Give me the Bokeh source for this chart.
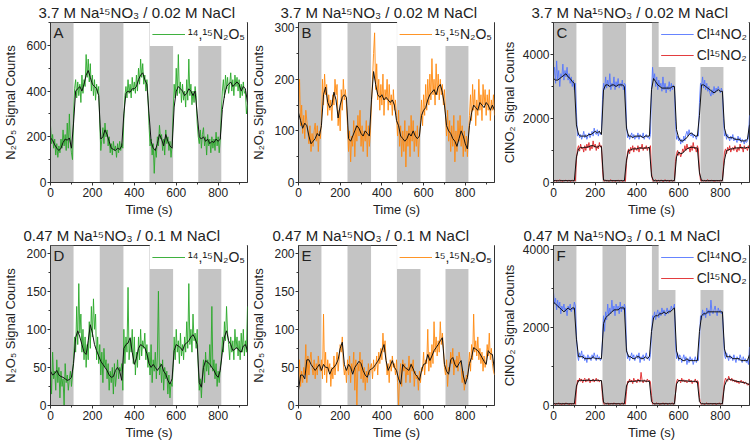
from bokeh.plotting import figure
from bokeh.models import Range1d, SingleIntervalTicker, Legend, LegendItem, Label
from bokeh.layouts import gridplot
from bokeh.embed import file_html
from bokeh.resources import INLINE

FONT = "Liberation Sans"
GREEN = "#2aa82a"
ORANGE = "#ff8a10"
BLUE = "#5577ff"
RED = "#e0282a"
BAND = "#c4c4c4"
TXT = "#222222"

# on/off periods (s) shown as grey bands
band_start = [0, 235, 472, 705]
band_end = [110, 348, 585, 815]

RAW_STEP = 5     # s between raw samples
SMOOTH_STEP = 10 # s between smoothed samples

# ---------------- Panel A : 14,15N2O5 (3.7 M) ----------------
a_raw = [250,170,210,150,190,120,170,110,160,130,190,150,230,160,210,140,260,150,300,170,130,100,
         300,410,
         450,370,440,380,430,350,470,390,450,420,560,460,540,440,520,400,470,380,450,360,430,390,420,
         260,140,190,240,170,260,200,230,160,200,130,170,120,180,140,160,110,170,130,180,140,170,150,
         280,380,420,370,450,390,430,370,460,400,440,390,470,400,500,430,540,460,520,430,470,400,450,380,
         250,160,190,120,170,40,150,110,200,160,250,190,210,140,190,120,230,170,200,140,180,110,160,
         300,430,370,500,380,560,390,440,350,430,360,400,330,450,360,540,380,430,340,400,350,420,380,
         260,200,170,230,150,210,240,160,200,120,210,160,190,130,200,150,190,140,220,160,200,130,190,
         300,400,450,370,470,410,460,390,430,480,400,450,380,470,420,460,400,450,370,430,380,440,390,400,300,340]
a_smooth = [195,185,165,150,140,150,175,190,185,195,150,
            260,400,410,420,400,430,470,490,460,430,420,410,380,
            190,200,230,210,180,150,145,140,150,145,160,
            300,390,400,395,410,410,420,450,470,480,450,430,
            300,180,150,140,170,210,190,160,210,180,160,150,
            330,400,420,410,400,380,390,410,400,380,400,
            300,200,190,200,180,190,170,180,175,190,180,190,
            320,380,420,430,440,420,430,440,430,400,420,410,350]

# ---------------- Panel B : 15,15N2O5 (3.7 M) ----------------
b_raw = [140,200,110,150,95,130,85,140,120,100,75,110,60,95,70,100,115,80,110,60,100,85,
         120,200,150,210,170,190,130,170,140,160,120,170,150,200,170,190,110,140,100,180,140,200,160,180,150,
         110,60,100,40,90,70,120,50,110,80,130,90,140,70,110,60,100,80,120,50,110,70,100,
         150,200,250,290,180,230,160,200,140,190,150,210,130,180,160,200,140,190,150,170,130,180,140,160,
         130,90,140,70,110,50,100,60,120,30,100,70,110,50,130,80,120,60,100,70,110,50,90,
         120,160,110,170,130,190,140,200,150,210,160,240,170,200,150,230,170,210,160,200,170,190,150,
         180,130,90,140,80,120,60,110,70,130,40,100,60,120,80,130,70,110,50,100,60,90,50,
         90,130,170,120,190,140,180,110,160,130,200,140,170,120,190,150,180,130,170,140,180,120,160,140,170,130]
b_smooth = [135,120,105,115,110,90,75,80,85,95,90,
            110,170,185,155,145,150,175,160,125,150,165,170,165,
            85,80,90,100,110,105,95,90,100,95,90,
            160,215,190,170,165,170,160,165,160,155,160,150,
            120,110,90,85,80,85,95,90,100,90,85,90,
            130,140,145,160,170,175,180,170,185,190,175,
            150,110,100,95,85,80,70,85,100,90,75,65,
            110,135,150,145,140,155,150,145,155,150,140,150,140]

# ---------------- Panel C : ClNO2 (3.7 M) ----------------
c14_raw = [3300,3600,3100,3800,3200,3500,3000,3400,3300,3700,3200,3500,3300,3600,3200,3400,3100,3300,3000,3200,2900,3100,
           2200,1450,1550,1400,1500,1350,1450,1600,1400,1500,1350,1450,1550,1400,1500,1600,1450,1700,1550,1500,1650,1450,1600,1500,1550,
           2600,3100,2900,3300,2950,3200,3000,3400,2900,3100,3000,3300,2900,3150,3000,3250,2950,3100,3000,3200,2900,3100,3050,
           1800,1400,1500,1350,1450,1550,1400,1500,1350,1450,1400,1550,1350,1500,1450,1400,1550,1350,1450,1500,1400,1450,1350,1500,
           2800,3600,3200,3400,3000,3300,2900,3200,3000,3100,2850,3300,2900,3100,2800,3000,2900,3150,2850,3100,2900,3050,2950,
           1900,1350,1450,1300,1400,1200,1350,1250,1450,1300,1500,1600,1450,1650,1500,1450,1550,1400,1500,1450,1350,1500,1450,
           2500,3100,3000,3300,2950,3200,2900,3100,2850,3000,2800,2700,2900,2750,3000,2800,2950,2850,3000,2900,2800,2950,2850,
           2000,1450,1550,1350,1500,1400,1300,1450,1350,1500,1300,1400,1350,1250,1450,1300,1400,1250,1350,1300,1200,1350,1250,1300,1400,2100]
c14_smooth = [3250,3200,3200,3250,3300,3350,3400,3300,3250,3150,3100,
              1800,1500,1450,1450,1450,1450,1500,1500,1550,1600,1550,1600,1500,
              2900,3050,3050,3000,3050,3050,3000,3050,3050,3050,3000,
              1700,1450,1450,1400,1450,1450,1450,1450,1400,1450,1450,1450,
              2900,3250,3150,3050,3000,2950,2950,2950,2950,2950,3000,3000,
              1650,1400,1300,1300,1350,1400,1500,1550,1500,1450,1450,
              2100,3050,3050,3000,2950,2900,2850,2800,2850,2900,2850,2850,
              1700,1450,1400,1400,1400,1350,1350,1350,1300,1300,1300,1350,1800]
c15_raw = [60,40,80,30,70,50,90,40,60,30,70,50,80,40,60,70,30,50,80,40,60,50,
           700,1050,1150,980,1200,1050,1100,950,1150,1000,1200,1080,1250,1000,1150,1050,1300,1100,1200,1000,1150,1050,1250,1100,1150,
           400,60,40,80,50,70,30,60,90,40,50,70,30,60,50,80,40,60,70,30,50,60,40,
           600,950,1050,900,1100,1000,1150,950,1100,1050,1000,1150,950,1100,1050,1200,1000,1100,1050,1150,1000,1100,1050,1150,
           300,70,40,60,90,30,50,70,40,80,60,30,50,90,40,60,70,30,50,80,40,60,50,
           650,900,1000,850,950,800,900,1050,950,1150,1000,1200,1050,1100,950,1150,1000,1250,1050,1100,950,1150,1050,
           350,60,40,80,50,70,30,60,90,40,60,50,80,40,60,30,70,50,60,40,80,50,60,
           500,950,1050,900,1100,1000,1150,950,1050,1100,1000,1150,1050,950,1100,1000,1200,1050,1100,950,1150,1050,1100,1000,1150,1050]
c15_smooth = [60,60,55,55,60,55,60,55,60,55,60,
              800,1050,1100,1080,1100,1100,1120,1150,1150,1120,1100,1150,1120,
              80,60,55,55,60,55,60,55,55,60,55,
              700,1000,1020,1050,1050,1050,1080,1080,1070,1080,1080,1100,
              200,60,55,60,55,60,55,60,55,60,55,60,
              800,950,900,920,1000,1050,1080,1100,1100,1080,1080,
              300,60,55,60,55,60,55,60,55,60,55,60,
              700,1000,1020,1050,1050,1080,1080,1080,1100,1080,1080,1100,1080]

# ---------------- Panel D : 14,15N2O5 (0.47 M) ----------------
d_raw = [50,15,70,35,45,20,60,30,50,10,45,25,35,0,55,30,40,20,35,45,25,40,
         60,90,70,130,80,160,95,120,70,100,60,90,50,80,60,110,75,130,90,140,100,120,60,90,55,
         80,40,70,30,75,50,60,35,55,20,45,30,50,15,55,25,40,60,35,50,45,55,20,
         100,55,90,70,155,60,85,70,100,55,90,40,70,50,90,60,100,65,85,75,95,60,80,50,
         70,40,80,30,60,45,70,35,65,150,40,55,30,60,20,50,35,45,15,40,10,30,25,
         50,90,60,100,70,85,55,95,65,80,60,90,70,110,75,160,80,100,70,120,85,95,75,
         100,50,20,35,10,40,60,30,70,45,60,40,80,50,130,45,60,35,55,25,45,30,50,
         60,90,70,110,85,130,95,80,60,90,70,85,60,100,75,90,65,85,60,95,70,100,65,85,70,130]
d_smooth = [45,40,42,46,40,38,37,35,33,34,37,
            55,89,98,90,80,70,67,85,106,95,80,72,65,
            58,54,50,46,40,37,38,46,50,45,33,
            75,80,82,89,70,54,62,75,80,78,76,68,
            55,50,54,50,46,50,54,45,41,33,28,35,
            72,80,78,76,72,80,82,85,90,93,88,
            80,30,24,50,59,57,54,50,46,40,37,46,
            70,90,98,85,80,72,74,76,72,70,78,80,72]

# ---------------- Panel E : 15,15N2O5 (0.47 M) ----------------
e_raw = [20,60,25,45,30,50,40,80,30,65,40,60,70,50,40,60,35,55,40,65,50,45,
         60,35,120,40,70,30,60,45,55,25,50,35,65,40,55,70,45,60,80,70,90,55,40,50,30,
         60,40,65,30,55,45,70,20,60,0,55,45,70,35,60,30,50,20,45,30,55,40,50,
         55,35,60,45,50,65,40,70,55,75,60,95,70,85,60,40,55,30,60,45,65,50,55,40,
         60,30,0,40,55,25,60,45,55,30,50,40,65,30,55,45,60,25,45,35,40,20,45,
         30,50,45,70,40,60,55,100,45,70,50,80,55,110,70,90,65,85,70,110,80,95,75,
         50,40,60,25,50,45,70,55,75,40,60,50,65,45,70,60,50,30,45,20,30,40,35,
         50,70,45,80,60,120,70,85,65,90,60,75,55,70,45,65,50,60,80,65,95,60,75,55,45,40]
e_smooth = [20,40,40,35,60,60,54,50,46,50,54,
            46,54,50,50,41,48,50,54,60,75,83,54,46,
            54,50,41,50,54,58,55,46,40,37,46,
            48,50,54,58,63,72,80,59,46,52,59,50,
            46,35,28,54,50,48,46,54,48,41,38,33,
            46,54,55,67,59,65,72,76,80,85,89,
            54,45,41,60,63,54,50,55,59,40,28,37,
            55,63,76,74,72,68,63,58,54,72,68,67,46]

# ---------------- Panel F : ClNO2 (0.47 M) ----------------
f14_raw = [2900,2600,2750,2450,2700,2500,2650,2350,2550,2450,2600,2400,2500,2300,2550,2450,2600,2400,2500,2450,2650,2550,
           1800,1300,1150,1350,1250,1400,1200,1300,1150,1250,1100,1300,1200,1250,1150,1300,1200,1350,1250,1150,1300,1200,1250,1150,1200,
           1700,2300,1900,2400,2200,2600,2300,2500,2350,2700,2400,2550,2300,2600,2450,2550,2350,2650,2400,2550,2450,2600,2500,
           1500,1200,1300,1150,1250,1350,1200,1300,1150,1250,1300,1200,1350,1100,1250,1200,1300,1150,1250,1350,1200,1250,1150,1300,
           1800,2300,2250,2400,2200,2350,2450,2250,2400,2300,2500,2350,2450,2300,2400,2500,2350,2450,2400,2550,2450,2500,2600,
           1600,1200,1350,1150,1300,1250,1100,1200,1300,1150,1250,1050,1200,1100,1250,1150,1200,1050,1150,1250,1100,1200,1150,
           1700,2300,2200,2450,2300,2400,2250,2500,2350,2450,2300,2700,2400,2350,2450,2550,2400,2300,2500,2400,2450,2350,2400,
           1800,1300,1200,1350,1250,1150,1300,1200,1250,1150,1300,1200,1100,1250,1200,1150,1300,1200,1100,1250,1150,1200,1100,1150,1050,1500]
f14_smooth = [2650,2600,2550,2500,2450,2400,2450,2500,2450,2500,2500,
              1700,1250,1250,1250,1200,1200,1200,1200,1250,1200,1200,1200,1200,
              2100,2250,2300,2350,2400,2450,2450,2450,2500,2500,2500,
              1400,1250,1250,1200,1200,1250,1250,1200,1200,1250,1200,1250,
              1900,2250,2300,2300,2350,2350,2400,2350,2400,2400,2450,2500,
              1400,1200,1200,1150,1150,1200,1150,1150,1150,1150,1150,
              1900,2300,2350,2350,2400,2400,2400,2400,2400,2400,2400,2400,
              1450,1250,1250,1250,1200,1200,1200,1200,1150,1150,1150,1150,1300]
f15_raw = [30,60,20,50,40,70,30,50,20,60,40,30,70,40,50,20,60,30,50,40,60,30,
           400,650,600,700,620,680,580,650,700,600,660,620,700,580,650,620,680,600,640,700,620,660,600,650,620,
           200,50,30,60,40,70,20,50,40,60,30,70,40,50,30,60,40,20,50,70,30,50,40,
           350,620,580,680,600,650,560,700,620,650,580,680,620,600,850,640,580,660,620,600,680,620,650,600,
           250,40,60,30,50,70,40,60,20,50,40,70,30,50,60,40,30,60,40,50,70,30,50,
           300,600,680,620,650,580,700,620,660,600,640,580,620,680,600,650,560,620,600,680,580,640,600,
           200,50,30,60,40,20,50,70,30,50,40,60,30,50,40,60,20,50,40,70,30,50,40,
           350,600,700,650,620,750,680,640,700,620,660,600,650,580,620,560,600,650,580,620,550,600,580,520,560,500]
f15_smooth = [45,45,45,45,45,45,45,45,45,45,45,
              500,640,650,640,640,650,650,640,650,640,650,640,640,
              80,45,45,45,45,45,45,45,45,45,45,
              500,620,620,620,620,630,640,630,630,630,620,620,
              100,45,45,45,45,45,45,45,45,45,45,45,
              550,640,640,630,630,630,620,620,620,620,610,
              100,45,45,45,45,45,45,45,45,45,45,45,
              500,640,680,660,650,630,620,610,600,590,580,560,530]

X_MAX = 940
y_max = {"A": 700, "B": 310, "C": 5000, "D": 210, "E": 210, "F": 4100}
y_tick = {"A": 200, "B": 100, "C": 2000, "D": 50, "E": 50, "F": 2000}

title_top = "3.7 M Na\u00b9\u2075NO\u2083 / 0.02 M NaCl"
title_bot = "0.47 M Na\u00b9\u2075NO\u2083 / 0.1 M NaCl"
lab_1415 = "\u00b9\u2074,\u00b9\u2075N\u2082O\u2085"
lab_1515 = "\u00b9\u2075,\u00b9\u2075N\u2082O\u2085"
lab_cl14 = "Cl\u00b9\u2074NO\u2082"
lab_cl15 = "Cl\u00b9\u2075NO\u2082"
ylab_n2o5 = "N\u2082O\u2085 Signal Counts"
ylab_clno2 = "ClNO\u2082 Signal Counts"


def times(vals, step):
    return [i * step for i in range(len(vals))]


def panel(key, width, left, right, title, toff, ylabel, series, label_std):
    ymax = y_max[key]
    p = figure(width=width, height=223, x_range=Range1d(0, X_MAX), y_range=Range1d(0, ymax),
               output_backend="svg", toolbar_location=None,
               min_border_left=left, min_border_right=right, min_border_top=20, min_border_bottom=41,
               title=title)
    p.title.text_font = FONT
    p.title.text_font_size = "15px"
    p.title.text_font_style = "normal"
    p.title.text_color = TXT
    p.title.align = "left"
    p.title.offset = toff
    p.title.standoff = 3
    p.xgrid.visible = False
    p.ygrid.visible = False
    p.outline_line_color = "#333333"
    p.outline_line_width = 1
    p.background_fill_color = "white"
    p.border_fill_color = "white"

    p.quad(left=band_start, right=band_end, bottom=0, top=ymax, fill_color=BAND, line_color=None)

    items = []
    for raw, smooth, color, lbl in series:
        r = p.line(times(raw, RAW_STEP), raw, line_color=color, line_width=1, line_alpha=0.9)
        items.append(LegendItem(label=lbl, renderers=[r]))
    for raw, smooth, color, lbl in series:
        p.line(times(smooth, SMOOTH_STEP), smooth, line_color="#111111", line_width=1)

    leg = Legend(items=items, location="top_right", margin=0, padding=2, spacing=1,
                 glyph_width=33, glyph_height=20, label_height=20, label_standoff=3,
                 label_text_font=FONT, label_text_font_size="14px", label_text_color=TXT,
                 border_line_alpha=0, background_fill_color="white", background_fill_alpha=1)
    p.add_layout(leg)

    p.add_layout(Label(x=0, y=ymax, x_offset=3, y_offset=-1, text=key, text_baseline="top",
                       text_font=FONT, text_font_size="15px", text_color=TXT))

    p.xaxis.ticker = SingleIntervalTicker(interval=200, num_minor_ticks=2)
    p.yaxis.ticker = SingleIntervalTicker(interval=y_tick[key], num_minor_ticks=2)
    p.xaxis.axis_label = "Time (s)"
    p.yaxis.axis_label = ylabel
    for ax in (p.xaxis[0], p.yaxis[0]):
        ax.axis_line_color = "#333333"
        ax.major_tick_line_color = "#333333"
        ax.minor_tick_line_color = "#333333"
        ax.major_tick_in = 0
        ax.major_tick_out = 3
        ax.minor_tick_in = 0
        ax.minor_tick_out = 2
        ax.major_label_text_font = FONT
        ax.major_label_text_font_size = "12px"
        ax.major_label_text_color = TXT
        ax.axis_label_text_font = FONT
        ax.axis_label_text_font_size = "13px"
        ax.axis_label_text_font_style = "normal"
        ax.axis_label_text_color = TXT
    p.xaxis.major_label_standoff = 2
    p.xaxis.axis_label_standoff = 2
    p.yaxis.major_label_standoff = 1
    p.yaxis.axis_label_standoff = label_std
    return p


pA = panel("A", 248, 49, 1, title_top, -12, ylab_n2o5, [(a_raw, a_smooth, GREEN, lab_1415)], 5)
pB = panel("B", 250, 48, 4, title_top, -18, ylab_n2o5, [(b_raw, b_smooth, ORANGE, lab_1515)], 5)
pC = panel("C", 252, 54, 1, title_top, -22, ylab_clno2,
           [(c14_raw, c14_smooth, BLUE, lab_cl14), (c15_raw, c15_smooth, RED, lab_cl15)], 3)
pD = panel("D", 248, 49, 1, title_bot, -27, ylab_n2o5, [(d_raw, d_smooth, GREEN, lab_1415)], 5)
pE = panel("E", 250, 48, 4, title_bot, -26, ylab_n2o5, [(e_raw, e_smooth, ORANGE, lab_1515)], 5)
pF = panel("F", 252, 54, 1, title_bot, -30, ylab_clno2,
           [(f14_raw, f14_smooth, BLUE, lab_cl14), (f15_raw, f15_smooth, RED, lab_cl15)], 3)

grid = gridplot([[pA, pB, pC], [pD, pE, pF]], toolbar_location=None)

open("out.html", "w").write(file_html(grid, INLINE))
